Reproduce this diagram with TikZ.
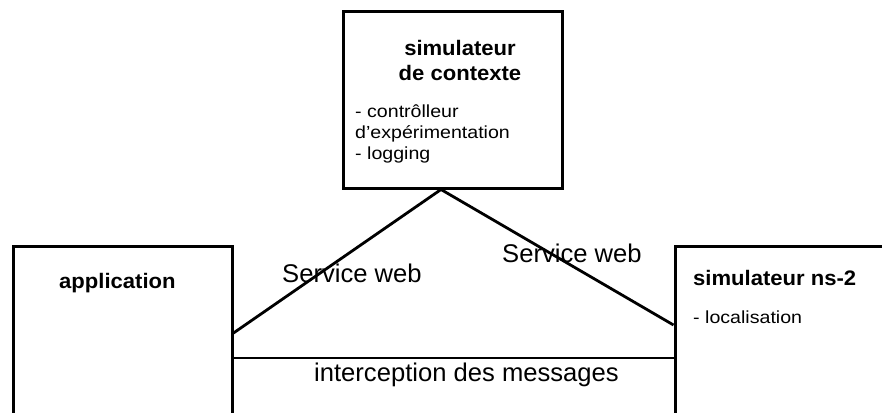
\documentclass[tikz,border=0pt]{standalone}
\usepackage{fontspec}
\setmainfont{Liberation Sans}
\newfontfamily\smallfam[FakeStretch=1.12]{Liberation Sans}
\newfontfamily\boldfam[FakeStretch=1.05]{Liberation Sans}
\usetikzlibrary{calc}
\tikzset{
  box/.style={draw=black, line width=3pt, rectangle, inner sep=0pt, fill=white},
  conn/.style={draw=black, line width=2.8pt},
  title/.style={inner sep=0pt, font=\boldfam\bfseries\fontsize{21pt}{24pt}\selectfont},
  item/.style={inner sep=0pt, anchor=base west, font=\smallfam\fontsize{17.5pt}{21pt}\selectfont},
  linklabel/.style={inner sep=0pt, anchor=base west, font=\fontsize{25.6pt}{30pt}\selectfont}
}
\begin{document}
\begin{tikzpicture}[x=1pt,y=-1pt]
\clip (0,0) rectangle (882,412);
\fill[white] (0,0) rectangle (882,412);
% boxes
\node[box, minimum width=219pt, minimum height=176pt] (ctx) at (452.5,100) {};
\node[box, minimum width=219pt, minimum height=184pt] (app) at (122.5,338) {};
\node[box, minimum width=225pt, minimum height=184pt] (ns) at (787.5,338) {};
% texts
\node[title, anchor=base] (ctxt1) at (460,56) {simulateur};
\node[title, anchor=base] (ctxt2) at (460,80) {de contexte};
\node[item] (ctxi1) at (355,117) {- contrôlleur};
\node[item] (ctxi2) at (355,138) {d’expérimentation};
\node[item] (ctxi3) at (355,159) {- logging};
\node[title, anchor=base west] (appt) at (59,288) {application};
\node[title, anchor=base west] (nst) at (693,285) {simulateur ns-2};
\node[item] (nsi) at (693,323) {- localisation};
% connectors
\coordinate (apex) at ([xshift=-11.5pt]ctx.south);
\draw[conn] ([yshift=5pt]app.east) -- (apex) -- ([yshift=13pt]ns.west);
\draw[conn] ([yshift=-20pt]app.east) -- ([yshift=-20pt]ns.west);
% link labels
\node[linklabel] (sw1) at (282,282) {Service web};
\node[linklabel] (sw2) at (502,262) {Service web};
\node[linklabel] (icp) at (314,381) {interception des messages};
\end{tikzpicture}
\end{document}
